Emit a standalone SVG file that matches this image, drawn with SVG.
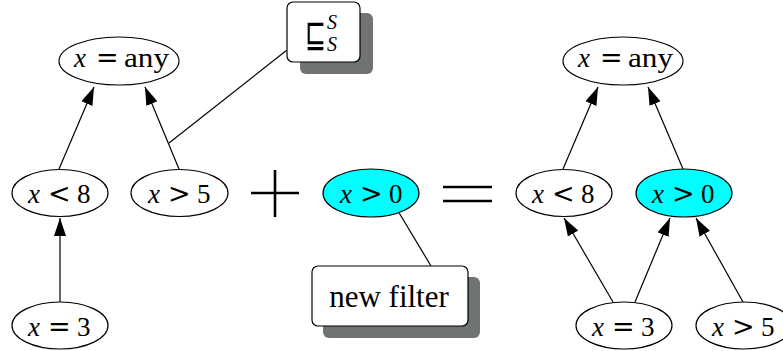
<svg xmlns="http://www.w3.org/2000/svg" width="783" height="351" viewBox="0 0 783 351">
<style>
.n{fill:#fff;stroke:#000;stroke-width:1.2}
.c{fill:#00ffff;stroke:#000;stroke-width:1.2}
.t{font-family:"Liberation Serif",serif;font-size:27px;fill:#000}
.i{font-style:italic}
.r{font-family:"DejaVu Serif",serif;font-size:27px;fill:#000}
.e{stroke:#000;stroke-width:1.2;fill:none}
.a{stroke:#000;stroke-width:1.2;fill:none;marker-end:url(#ah)}
.box{fill:#fff;stroke:#000;stroke-width:1.2}
.sh{fill:#6f7471}
.op{stroke:#000;stroke-width:2.6;fill:none}
.sq{font-family:"DejaVu Sans",sans-serif;font-size:25px;fill:#000}
.s{font-family:"Liberation Serif",serif;font-style:italic;font-size:20px;fill:#000}
</style>
<defs>
<marker id="ah" markerUnits="userSpaceOnUse" markerWidth="19" markerHeight="13" refX="18" refY="6" orient="auto">
<path d="M0,0 L18,6 L0,12 z" fill="#000"/>
</marker>
</defs>
<g id="connectors">
<line class="a" x1="59" y1="169" x2="94" y2="87"/>
<line class="a" x1="179" y1="169" x2="145" y2="87"/>
<line class="a" x1="60" y1="302" x2="60" y2="218"/>
<line class="e" x1="287" y1="50" x2="169" y2="143"/>
<line class="e" x1="395" y1="206" x2="431" y2="266"/>
<line class="a" x1="563" y1="169" x2="598" y2="87"/>
<line class="a" x1="683" y1="169" x2="648" y2="87"/>
<line class="a" x1="613" y1="302" x2="564" y2="218"/>
<line class="a" x1="635" y1="302" x2="670" y2="218"/>
<line class="a" x1="743" y1="302" x2="696" y2="218"/>
</g>
<g id="L_any">
<ellipse class="n" cx="119" cy="61" rx="60" ry="24"/>
<text class="t" y="67"><tspan class="i" x="74">x</tspan><tspan class="r" x="96">=</tspan><tspan x="124" textLength="45" lengthAdjust="spacingAndGlyphs">any</tspan></text>
</g>
<g id="L_lt8">
<ellipse class="n" cx="60" cy="193" rx="48" ry="23.5"/>
<text class="t" y="203"><tspan class="i" x="28">x</tspan><tspan class="r" x="48">&lt;</tspan><tspan x="77">8</tspan></text>
</g>
<g id="L_gt5">
<ellipse class="n" cx="179.5" cy="193" rx="48.5" ry="23.5"/>
<text class="t" y="203"><tspan class="i" x="148">x</tspan><tspan class="r" x="168">&gt;</tspan><tspan x="197">5</tspan></text>
</g>
<g id="L_eq3">
<ellipse class="n" cx="60" cy="325.5" rx="48" ry="23.5"/>
<text class="t" y="336"><tspan class="i" x="28">x</tspan><tspan class="r" x="48">=</tspan><tspan x="77">3</tspan></text>
</g>
<g id="plus">
<line class="op" x1="251" y1="193" x2="299" y2="193"/>
<line class="op" x1="275" y1="170" x2="275" y2="217"/>
</g>
<g id="M_gt0">
<ellipse class="c" cx="371" cy="193" rx="48" ry="24"/>
<text class="t" y="203"><tspan class="i" x="340">x</tspan><tspan class="r" x="360">&gt;</tspan><tspan x="389">0</tspan></text>
</g>
<g id="equals">
<line class="op" x1="443" y1="187" x2="492" y2="187"/>
<line class="op" x1="443" y1="201" x2="492" y2="201"/>
</g>
<g id="order_box">
<rect class="sh" x="300" y="13" width="73" height="61" rx="6"/>
<rect class="box" x="287" y="2" width="73" height="60" rx="6"/>
<text class="sq" transform="translate(305,47) scale(1,1.55)" x="0" y="0">⊑</text>
<text class="s" x="327" y="29">S</text>
<text class="s" x="327" y="51">S</text>
</g>
<g id="newfilter_box">
<rect class="sh" x="323" y="277" width="157" height="61" rx="6"/>
<rect class="box" x="312" y="266" width="156" height="60" rx="6"/>
<text class="t" style="font-size:31px" x="389" y="307" text-anchor="middle">new filter</text>
</g>
<g id="R_any">
<ellipse class="n" cx="623" cy="61" rx="60" ry="24"/>
<text class="t" y="67"><tspan class="i" x="578">x</tspan><tspan class="r" x="600">=</tspan><tspan x="628" textLength="45" lengthAdjust="spacingAndGlyphs">any</tspan></text>
</g>
<g id="R_lt8">
<ellipse class="n" cx="564" cy="193" rx="48" ry="23.5"/>
<text class="t" y="203"><tspan class="i" x="532">x</tspan><tspan class="r" x="552">&lt;</tspan><tspan x="581">8</tspan></text>
</g>
<g id="R_gt0">
<ellipse class="c" cx="684" cy="193" rx="48" ry="24"/>
<text class="t" y="203"><tspan class="i" x="652">x</tspan><tspan class="r" x="672">&gt;</tspan><tspan x="701">0</tspan></text>
</g>
<g id="R_eq3">
<ellipse class="n" cx="624" cy="325.5" rx="48" ry="23.5"/>
<text class="t" y="336"><tspan class="i" x="592">x</tspan><tspan class="r" x="612">=</tspan><tspan x="641">3</tspan></text>
</g>
<g id="R_gt5">
<ellipse class="n" cx="744" cy="325.5" rx="48" ry="23.5"/>
<text class="t" y="336"><tspan class="i" x="712">x</tspan><tspan class="r" x="732">&gt;</tspan><tspan x="761">5</tspan></text>
</g>
</svg>
